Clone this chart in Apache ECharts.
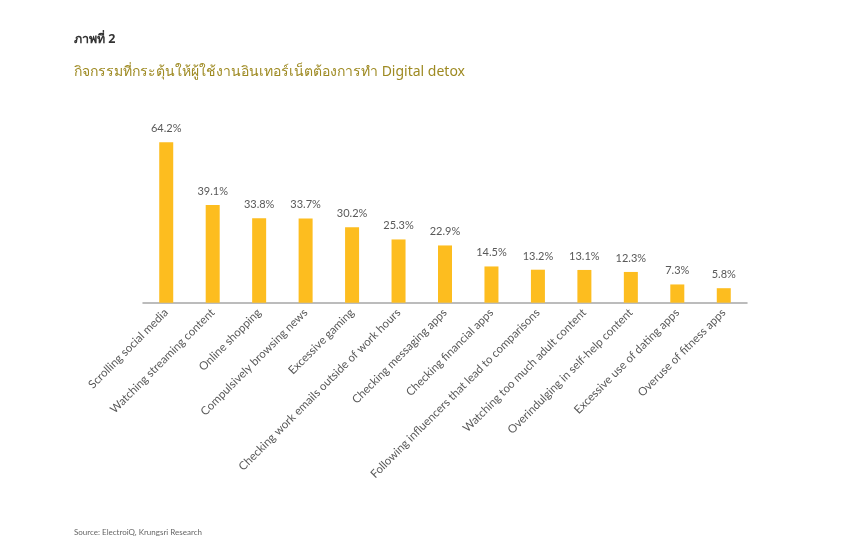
<!DOCTYPE html>
<html>
<head>
<meta charset="utf-8">
<script src="https://cdn.jsdelivr.net/npm/echarts@6/dist/echarts.min.js"></script>
<style>
  html, body { margin: 0; padding: 0; background: #fff; }
  #chart-container { width: 860px; height: 550px; }
</style>
</head>
<body>
<div id="chart-container"></div>
<script>
// data
var categories = [
  'Scrolling social media',
  'Watching streaming content',
  'Online shopping',
  'Compulsively browsing news',
  'Excessive gaming',
  'Checking work emails outside of work hours',
  'Checking messaging apps',
  'Checking financial apps',
  'Following influencers that lead to comparisons',
  'Watching too much adult content',
  'Overindulging in self-help content',
  'Excessive use of dating apps',
  'Overuse of fitness apps'
];
var shares = [64.2, 39.1, 33.8, 33.7, 30.2, 25.3, 22.9, 14.5, 13.2, 13.1, 12.3, 7.3, 5.8];

var dom = document.getElementById('chart-container');
var myChart = echarts.init(dom, null, { renderer: 'canvas' });

var option = {
  animation: false,
  backgroundColor: '#ffffff',
  title: [
    {
      text: 'ภาพที่ 2',
      left: 69, top: 28,
      textStyle: { fontSize: 12.5, fontWeight: 'bold', color: '#333333', fontFamily: 'Noto Sans, sans-serif' }
    },
    {
      text: 'กิจกรรมที่กระตุ้นให้ผู้ใช้งานอินเทอร์เน็ตต้องการทำ Digital detox',
      left: 69, top: 60,
      textStyle: { fontSize: 14, fontWeight: 'normal', color: '#9e8a22', fontFamily: 'Noto Sans, sans-serif' }
    },
    {
      text: 'Source: ElectroiQ, Krungsri Research',
      left: 69, top: 523,
      textStyle: { fontSize: 8, fontWeight: 'normal', color: '#666666', fontFamily: 'Lato, sans-serif' }
    }
  ],
  grid: { left: 143, right: 113, top: 127.7, bottom: 247.3 },
  xAxis: {
    type: 'category',
    data: categories,
    axisTick: { show: false },
    axisLine: { lineStyle: { color: '#a6a6a6', width: 1.5 } },
    axisLabel: {
      interval: 0,
      rotate: 45,
      margin: 8,
      color: '#595959',
      fontSize: 11.5,
      fontFamily: 'Lato, sans-serif'
    }
  },
  yAxis: {
    type: 'value',
    min: 0,
    max: 70,
    show: false
  },
  series: [
    {
      type: 'bar',
      data: shares,
      barWidth: 14,
      itemStyle: { color: '#fdbd1f' },
      label: {
        show: true,
        position: 'top',
        distance: 8,
        color: '#595959',
        fontSize: 11,
        fontFamily: 'Lato, sans-serif',
        formatter: function (params) {
          return params.value.toFixed(1) + '%';
        }
      }
    }
  ]
};

myChart.setOption(option);
window.addEventListener('resize', myChart.resize);
</script>
</body>
</html>
